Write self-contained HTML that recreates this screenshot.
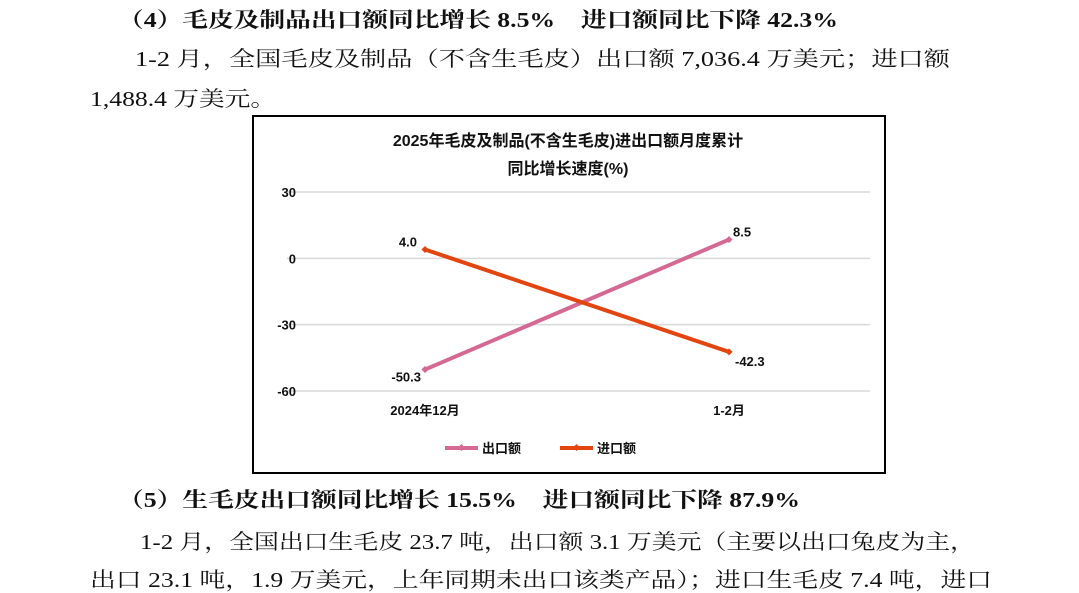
<!DOCTYPE html>
<html><head><meta charset="utf-8"><style>
html,body{margin:0;padding:0;background:#fff;}
svg{display:block;}
.p{font-family:"Liberation Serif","Noto Serif CJK SC",serif;font-size:21px;fill:#111;}
.b{font-weight:bold;}
.c{font-family:"Liberation Sans","Noto Sans CJK SC",sans-serif;font-weight:bold;fill:#111;}
</style></head><body>
<svg id="page" width="1079" height="593" viewBox="0 0 1079 593" xmlns="http://www.w3.org/2000/svg">
<text class="p b" x="118" y="27" textLength="720" lengthAdjust="spacingAndGlyphs">（4）毛皮及制品出口额同比增长 8.5%　进口额同比下降 42.3%</text>
<text class="p" x="135" y="66" textLength="815" lengthAdjust="spacingAndGlyphs">1-2 月，全国毛皮及制品（不含生毛皮）出口额 7,036.4 万美元；进口额</text>
<text class="p" x="90" y="106" textLength="186" lengthAdjust="spacingAndGlyphs">1,488.4 万美元。</text>

<g>
<rect x="253" y="116" width="632" height="357" fill="#fff" stroke="#000" stroke-width="2"/>
<text class="c" x="568" y="146" font-size="16" text-anchor="middle">2025年毛皮及制品(不含生毛皮)进出口额月度累计</text>
<text class="c" x="568" y="174" font-size="16" text-anchor="middle">同比增长速度(%)</text>
<g id="grid"></g><g id="yticks"></g><g id="xticks"></g><g id="series"></g>
<g>
<g>
<line x1="445" y1="448" x2="478" y2="448" stroke="#d46a94" stroke-width="4"/>
<rect x="459" y="445" width="5" height="5" fill="#d46a94" transform="rotate(45 461.5 447.5)"/>
<text class="c" x="482" y="453" font-size="13">出口额</text>
</g>
<g>
<line x1="560" y1="448" x2="593" y2="448" stroke="#e2450f" stroke-width="4"/>
<rect x="574" y="445" width="5" height="5" fill="#e2450f" transform="rotate(45 576.5 447.5)"/>
<text class="c" x="597" y="453" font-size="13">进口额</text>
</g>
</g>
</g>

<text class="p b" x="118" y="507" textLength="682" lengthAdjust="spacingAndGlyphs">（5）生毛皮出口额同比增长 15.5%　进口额同比下降 87.9%</text>
<text class="p" x="140" y="549" textLength="835" lengthAdjust="spacingAndGlyphs">1-2 月，全国出口生毛皮 23.7 吨，出口额 3.1 万美元（主要以出口兔皮为主，</text>
<text class="p" x="90" y="587" textLength="902" lengthAdjust="spacingAndGlyphs">出口 23.1 吨，1.9 万美元，上年同期未出口该类产品）；进口生毛皮 7.4 吨，进口</text>
</svg>
<script>
const categories = ["2024年12月", "1-2月"];
const exportValues = [-50.3, 8.5];
const importValues = [4.0, -42.3];
const yTicks = [30, 0, -30, -60];

const NS = "http://www.w3.org/2000/svg";
const yMin = -60, yMax = 30, yTop = 192, yBot = 391;
const gridL = 287, gridR = 870, bandL = 273, bandW = 304;
function y(v){ return yBot - (v - yMin) / (yMax - yMin) * (yBot - yTop); }
function x(i){ return bandL + (i + 0.5) * bandW; }
function mk(tag, attrs, parent){ const e=document.createElementNS(NS,tag); for(const k in attrs) e.setAttribute(k,attrs[k]); parent.appendChild(e); return e; }

const grid=document.getElementById('grid'), yt=document.getElementById('yticks'), xt=document.getElementById('xticks'), ser=document.getElementById('series');
yTicks.forEach(t=>{
  const l=mk('line',{x1:gridL,x2:gridR,y1:y(t),y2:y(t),stroke:'#d9d9d9','stroke-width':1.5},grid);
  
  
  const tx=mk('text',{x:296,y:y(t)+5,'text-anchor':'end','font-size':13,class:'c'},yt);
  tx.textContent=String(t);
  
  
});
categories.forEach((c,i)=>{
  const tx=mk('text',{x:x(i),y:415,'text-anchor':'middle','font-size':13,class:'c'},xt);
  tx.textContent=c;
  
  
});
function series(vals,color,name,labelPos){
  const g=mk('g',{},ser);
  
  
  const pl=mk('polyline',{points:vals.map((v,i)=>x(i)+','+y(v)).join(' '),fill:'none',stroke:color,'stroke-width':4},g);
  
  
  vals.forEach((v,i)=>{
    const px=x(i), py=y(v);
    const m=mk('rect',{x:px-2.5,y:py-2.5,width:5,height:5,fill:color,transform:`rotate(45 ${px} ${py})`},g);
    
    
    const lp=labelPos(i,v);
    const t=mk('text',{x:px+lp[0],y:py+lp[1],'text-anchor':lp[2],'font-size':13,class:'c'},g);
    t.textContent=v.toFixed(1);
    
    
  });
}
series(exportValues,'#d46a94','export',(i,v)=>i===0?[-4,12,'end']:[4,-3,'start']);
series(importValues,'#e2450f','import',(i,v)=>i===0?[-8,-3,'end']:[6,14,'start']);
</script>
</body></html>
